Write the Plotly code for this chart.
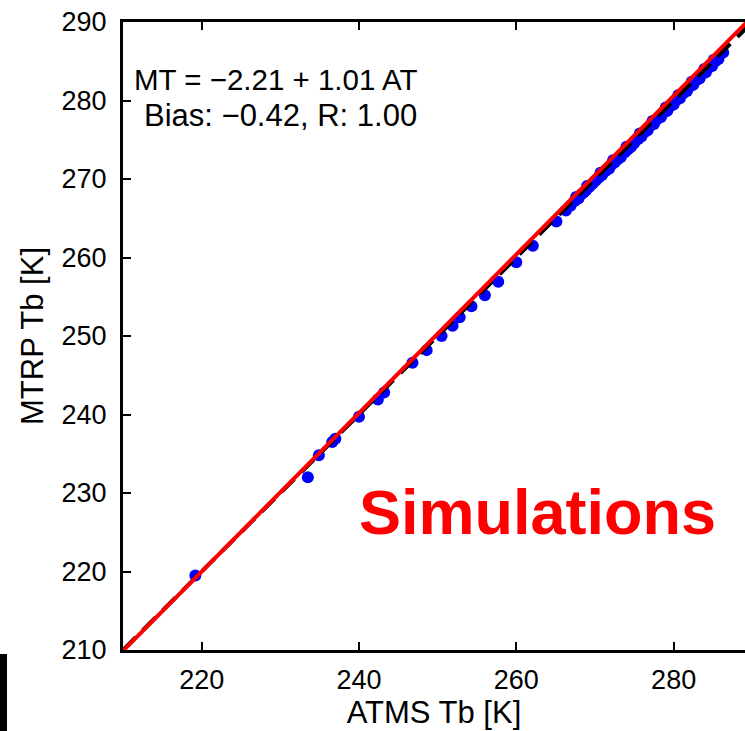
import plotly.graph_objects as go

# ATMS brightness temperatures (x) and matching MTRP simulated values (y), in K
atms_tb = [219.2, 233.5, 234.9, 236.6, 237.0, 240.0, 242.4, 243.2, 246.8, 248.6,
           250.5, 251.9, 252.8, 254.3, 256.0, 257.7, 260.0, 262.1, 265.1, 266.3,
           266.9, 267.4, 267.9, 268.3, 268.6, 268.9, 269.3, 269.7, 270.1, 270.5,
           270.9, 271.3, 271.8, 272.1, 272.5, 272.9, 273.3, 273.8, 274.2, 274.6,
           275.0, 275.5, 275.9, 276.3, 276.7, 277.1, 277.5, 277.9, 278.4, 278.8,
           279.2, 279.6, 280.0, 280.4, 280.8, 281.2, 281.7, 282.1, 282.5, 282.9,
           283.3, 283.7, 284.1, 284.5, 284.9, 285.3, 285.7, 286.3,
           267.6, 269.0, 270.7, 272.3, 274.0, 275.7, 277.3, 279.0, 280.6, 282.3,
           283.9, 285.1]
mtrp_tb = [219.5, 232.0, 234.8, 236.5, 236.9, 239.7, 241.9, 242.8, 246.6, 248.2,
           250.0, 251.3, 252.4, 253.8, 255.2, 256.9, 259.4, 261.5, 264.6, 266.0,
           266.6, 267.2, 267.5, 268.1, 268.3, 268.6, 269.0, 269.4, 269.8, 270.2,
           270.5, 271.0, 271.3, 271.8, 272.1, 272.5, 272.8, 273.4, 273.8, 274.1,
           274.6, 275.1, 275.4, 276.0, 276.2, 276.8, 277.0, 277.6, 277.9, 278.5,
           278.7, 279.3, 279.5, 280.1, 280.3, 280.9, 281.2, 281.8, 282.0, 282.6,
           282.8, 283.4, 283.6, 284.2, 284.4, 285.0, 285.3, 286.1,
           267.7, 269.1, 270.8, 272.4, 274.1, 275.8, 277.4, 279.1, 280.7, 282.4,
           284.0, 285.2]

# linear fit reported on the panel: MT = intercept + slope * AT
fit_intercept = -2.21
fit_slope = 1.01
bias_value = -0.42
corr_value = 1.00

x_range = [210, 289.07]
y_range = [210, 290]
x_ticks = [220, 240, 260, 280]
y_ticks = [210, 220, 230, 240, 250, 260, 270, 280, 290]

font_family = "Liberation Sans, Arial, Helvetica, sans-serif"

line_ends = [210, 290]
fit_y = [fit_intercept + fit_slope * v for v in line_ends]

fig = go.Figure()
fig.add_trace(go.Scatter(
    x=atms_tb, y=mtrp_tb, mode="markers",
    marker=dict(color="#0000ff", size=12, line=dict(width=0)),
    showlegend=False, cliponaxis=True,
))
fig.add_trace(go.Scatter(
    x=line_ends, y=line_ends, mode="lines",
    line=dict(color="black", width=4, dash="18px,10px"),
    showlegend=False,
))
fig.add_trace(go.Scatter(
    x=line_ends, y=fit_y, mode="lines",
    line=dict(color="#ff0000", width=4),
    showlegend=False,
))

fig.update_layout(
    width=745, height=731,
    margin=dict(l=123, r=0, t=22, b=81, pad=0),
    paper_bgcolor="white", plot_bgcolor="white",
    font=dict(family=font_family, color="black"),
    showlegend=False,
)
fig.update_xaxes(
    range=x_range, tickvals=x_ticks, ticks="inside", ticklen=8, tickwidth=2,
    tickcolor="black", showline=True, linecolor="black", linewidth=3,
    mirror="ticks", showgrid=False, zeroline=False,
    tickfont=dict(size=27), ticklabelstandoff=4,
    title=dict(text="ATMS Tb [K]", font=dict(size=31), standoff=5),
)
fig.update_yaxes(
    range=y_range, tickvals=y_ticks, ticks="inside", ticklen=8, tickwidth=2,
    tickcolor="black", showline=True, linecolor="black", linewidth=3,
    showgrid=False, zeroline=False,
    tickfont=dict(size=27), ticklabelstandoff=8,
    title=dict(text="MTRP Tb [K]", font=dict(size=31), standoff=9),
)

fig.add_annotation(
    xref="paper", yref="paper", x=9 / 622, y=(650 - 80) / 628,
    xanchor="left", yanchor="middle", showarrow=False,
    text=f"MT = \u2212{abs(fit_intercept):.2f} + {fit_slope:.2f} AT",
    font=dict(size=29.5, color="black"),
)
fig.add_annotation(
    xref="paper", yref="paper", x=19 / 622, y=(650 - 116) / 628,
    xanchor="left", yanchor="middle", showarrow=False,
    text=f"Bias: \u2212{abs(bias_value):.2f}, R: {corr_value:.2f}",
    font=dict(size=31, color="black"),
)
fig.add_annotation(
    xref="paper", yref="paper", x=(537 - 123) / 622, y=(650 - 512) / 628,
    xanchor="center", yanchor="middle", showarrow=False,
    text="<b>Simulations</b>",
    font=dict(size=63, color="#ff0000"),
)

# dark strip along the lower-left edge
fig.add_shape(
    type="rect", xref="paper", yref="paper",
    x0=-123 / 622, x1=-116 / 622, y0=-81 / 628, y1=-4 / 628,
    fillcolor="black", line=dict(width=0), layer="above",
)

fig.write_html("out.html")
